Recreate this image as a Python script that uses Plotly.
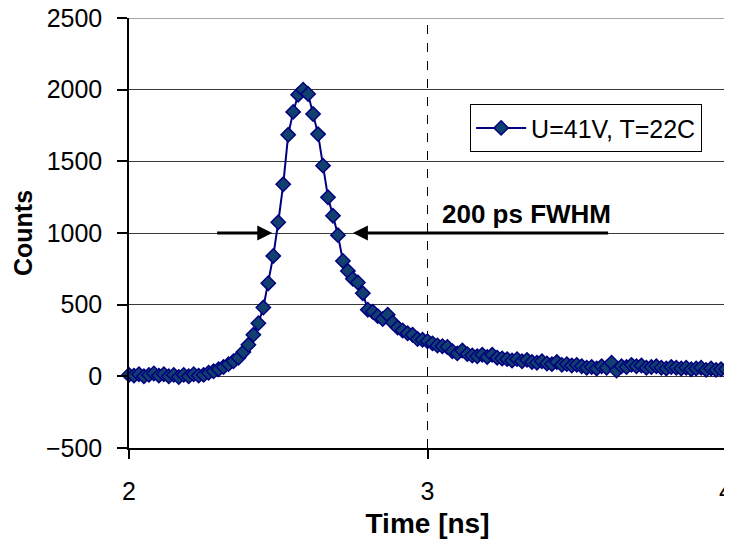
import plotly.graph_objects as go

t_start = 2.0
t_step = 1 / 60
counts = [
    10, 5, 15, 0, 10, 20, 5, 15, 0, 10,
    -5, 10, 0, 15, 5, 10, 25, 35, 50, 65,
    85, 105, 130, 170, 220, 290, 370, 480, 650, 840,
    1075, 1340, 1685, 1845, 1965, 2000, 1970, 1830, 1690, 1470,
    1250, 1120, 985, 805, 735, 680, 655, 580, 465, 450,
    420, 400, 430, 375, 340, 320, 300, 290, 260, 255,
    245, 230, 215, 210, 205, 175, 160, 180, 155, 145,
    140, 150, 135, 150, 130, 125, 120, 110, 120, 105,
    115, 100, 95, 105, 90, 85, 100, 80, 85, 75,
    80, 70, 60, 65, 55, 70, 60, 95, 40, 70,
    65, 80, 70, 75, 60, 65, 70, 60, 55, 65,
    60, 55, 60, 50, 55, 60, 45, 55, 45, 50,
    50,
]
time_ns = [t_start + i * t_step for i in range(len(counts))]

series_name = "U=41V, T=22C"
y_ticks = [-500, 0, 500, 1000, 1500, 2000, 2500]
x_ticks = [2, 3, 4]

# Стрелки FWHM на уровне 1000
fwhm_level = 1000
left_arrow = (2.29, 2.48)   # хвост -> наконечник
right_arrow = (3.61, 2.75)
fwhm_label = "200 ps FWHM"
fwhm_label_pos = (3.33, 1130)

FONT = "Liberation Sans, Arial, sans-serif"

fig = go.Figure()

fig.add_trace(go.Scatter(
    x=time_ns,
    y=counts,
    mode='lines+markers',
    name=series_name,
    line=dict(color='#000080', width=2),
    marker=dict(symbol='diamond', size=11, color='#12406e',
                line=dict(color='#000080', width=1.5)),
    cliponaxis=False,
))

# вертикальная пунктирная линия на 3 нс
fig.add_shape(type='line', x0=3, x1=3, y0=-500, y1=2500, xref='x', yref='y',
              line=dict(color='black', width=1, dash='dash'), layer='below')
# серые верхняя и правая границы
fig.add_shape(type='line', x0=2, x1=4, y0=2500, y1=2500, xref='x', yref='y',
              line=dict(color='#8a8a8a', width=1.5))
fig.add_shape(type='line', x0=4, x1=4, y0=-500, y1=2500, xref='x', yref='y',
              line=dict(color='#8a8a8a', width=1.5))

for tail, head in (left_arrow, right_arrow):
    fig.add_annotation(
        x=head, y=fwhm_level, ax=tail, ay=fwhm_level,
        xref='x', yref='y', axref='x', ayref='y',
        text='', showarrow=True, arrowhead=2, arrowsize=1,
        arrowwidth=3, arrowcolor='black',
    )

fig.add_annotation(
    x=fwhm_label_pos[0], y=fwhm_label_pos[1], xref='x', yref='y',
    text=f"<b>{fwhm_label}</b>", showarrow=False,
    font=dict(family=FONT, size=26, color='black'),
)

# страница имеет отступ 8 px, поэтому фигура чуть меньше окна
fig.update_layout(
    width=724, height=536,
    margin=dict(l=121, r=6, t=10, b=96, autoexpand=False),
    paper_bgcolor='white', plot_bgcolor='white',
    font=dict(family=FONT, size=25, color='black'),
    showlegend=True,
    legend=dict(
        x=0.96, y=0.688, xanchor='right', yanchor='bottom',
        bgcolor='white', bordercolor='black', borderwidth=1,
        font=dict(family=FONT, size=25, color='black'),
        itemwidth=50,
    ),
)

fig.update_xaxes(
    range=[2, 4], tickvals=x_ticks, showgrid=False, zeroline=False,
    showline=True, linecolor='black', linewidth=1.5,
    ticks='outside', ticklen=9, tickcolor='black', tickwidth=1.5,
    ticklabelstandoff=11, ticklabeloverflow='allow', automargin=False,
    title=dict(text='<b>Time [ns]</b>', standoff=10,
               font=dict(family=FONT, size=28)),
)
fig.update_yaxes(
    range=[-500, 2500], tickvals=y_ticks, showgrid=True,
    gridcolor='#3a3a3a', gridwidth=1, zeroline=False,
    showline=True, linecolor='black', linewidth=1.5,
    ticks='outside', ticklen=10, tickcolor='black', tickwidth=1.5,
    ticklabelstandoff=10, ticklabeloverflow='allow', automargin=False,
    title=dict(text='<b>Counts</b>', standoff=6,
               font=dict(family=FONT, size=25)),
)

fig.write_html("out.html")
